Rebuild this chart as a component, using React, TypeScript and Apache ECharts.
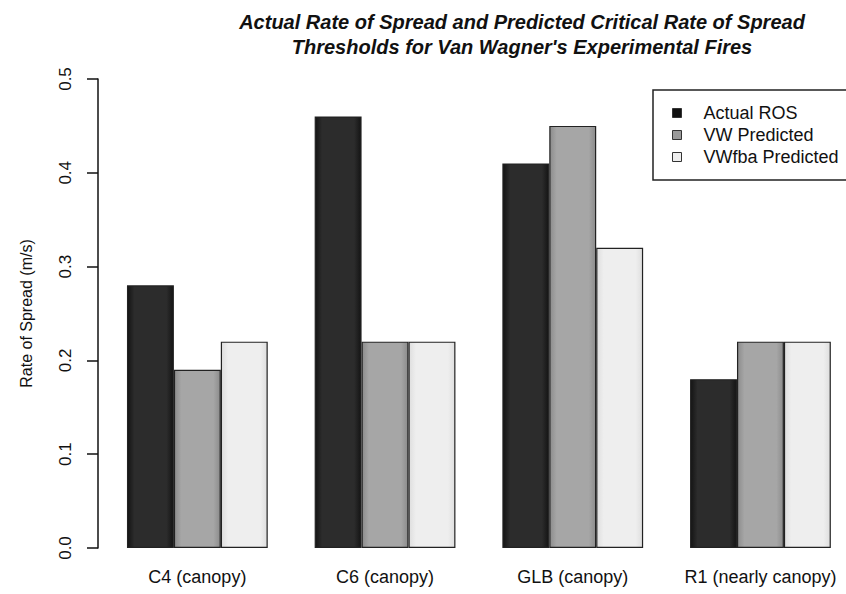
import React, { useEffect, useRef } from "react";
import * as echarts from "echarts";

const categories = ["C4 (canopy)", "C6 (canopy)", "GLB (canopy)", "R1 (nearly canopy)"];
const seriesNames = ["Actual ROS", "VW Predicted", "VWfba Predicted"];
const actualROS = [0.28, 0.46, 0.41, 0.18];
const vwPredicted = [0.19, 0.22, 0.45, 0.22];
const vwfbaPredicted = [0.22, 0.22, 0.32, 0.22];
const yTicks = [0, 0.1, 0.2, 0.3, 0.4, 0.5];

const FONT = "'Liberation Sans', Arial, Helvetica, sans-serif";

function grad(edge: string, mid: string) {
  return new echarts.graphic.LinearGradient(0, 0, 1, 0, [
    { offset: 0, color: edge },
    { offset: 0.15, color: mid },
    { offset: 0.85, color: mid },
    { offset: 1, color: edge },
  ]);
}

export default function App() {
  const ref = useRef<HTMLDivElement>(null);
  useEffect(() => {
    if (!ref.current) return;
    const chart = echarts.init(ref.current, null, { renderer: "svg" });
    const seriesData = [actualROS, vwPredicted, vwfbaPredicted];
    const fills = [grad("#141414", "#2c2c2c"), grad("#8c8c8c", "#a6a6a6"), grad("#dedede", "#eeeeee")];
    const legendColors = ["#111111", "#9a9a9a", "#eeeeee"];
    chart.setOption({
      animation: false,
      backgroundColor: "#ffffff",
      title: {
        text: "Actual Rate of Spread and Predicted Critical Rate of Spread\nThresholds for Van Wagner's Experimental Fires",
        left: 517,
        top: 4,
        textAlign: "center",
        textStyle: {
          fontFamily: FONT,
          fontSize: 20,
          fontWeight: "bold",
          fontStyle: "italic",
          color: "#111",
          lineHeight: 25,
          align: "center",
        },
      },
      legend: {
        orient: "vertical",
        left: 653,
        top: 90,
        padding: [14, 60, 14, 19],
        itemWidth: 9,
        itemHeight: 9,
        itemGap: 4,
        borderColor: "#222",
        borderWidth: 1.5,
        textStyle: { fontFamily: FONT, fontSize: 18, color: "#111", lineHeight: 18, padding: [0, 0, 0, 17] },
        data: seriesNames.map((n, i) => ({
          name: n,
          icon: "rect",
          itemStyle: { color: legendColors[i], borderColor: "#333", borderWidth: 1 },
        })),
      },
      grid: { left: 103.5, right: 15.7, top: 79, bottom: 46, containLabel: false },
      xAxis: {
        type: "category",
        data: categories,
        axisLine: { show: false },
        axisTick: { show: false },
        axisLabel: { interval: 0, fontFamily: FONT, fontSize: 18, color: "#111", margin: 20 },
      },
      yAxis: {
        type: "value",
        min: 0,
        max: 0.5,
        interval: 0.1,
        offset: 5.5,
        name: "Rate of Spread (m/s)",
        nameLocation: "middle",
        nameGap: 64,
        nameTextStyle: { fontFamily: FONT, fontSize: 16, color: "#111" },
        axisLine: { show: true, lineStyle: { color: "#111", width: 1.5 } },
        axisTick: { show: true, length: 11, lineStyle: { color: "#111", width: 1.5 } },
        splitLine: { show: false },
        axisLabel: {
          rotate: 90,
          margin: 24,
          fontFamily: FONT,
          fontSize: 17,
          color: "#111",
          formatter: (v: number) => (yTicks.some((t) => Math.abs(t - v) < 1e-9) ? v.toFixed(1) : ""),
        },
      },
      series: seriesNames.map((n, i) => ({
        name: n,
        type: "bar",
        data: seriesData[i],
        barGap: "0%",
        barCategoryGap: "25%",
        itemStyle: { color: fills[i], borderColor: "#222", borderWidth: 1.2 },
      })),
    });
    return () => chart.dispose();
  }, []);
  return (
    <div
      ref={ref}
      style={{ position: "fixed", left: 0, top: 0, width: 870, height: 594, background: "#fff" }}
    />
  );
}
